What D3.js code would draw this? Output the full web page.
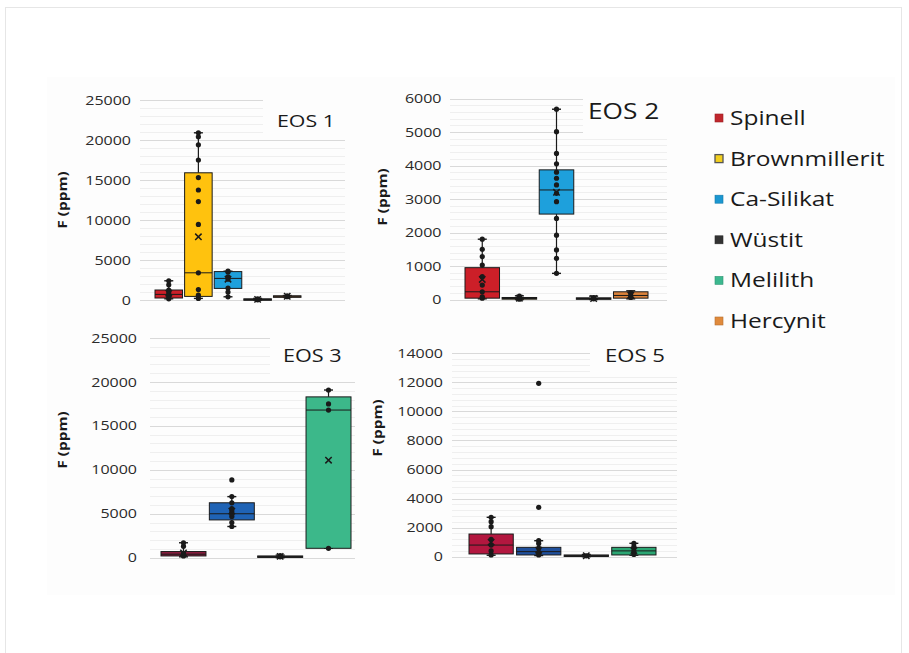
<!DOCTYPE html>
<html>
<head>
<meta charset="utf-8">
<script src="https://cdn.jsdelivr.net/npm/d3@7"></script>
<style>
  body { margin: 0; background: #fff; }
  text { font-family: "Open Sans", sans-serif; }
</style>
</head>
<body>
<svg id="chart"></svg>
<script>
// series (legend order)
var series = ["Spinell", "Brownmillerit", "Ca-Silikat", "Wüstit", "Melilith", "Hercynit"];

// y tick labels per panel
var eos1Ticks = [0, 5000, 10000, 15000, 20000, 25000];
var eos2Ticks = [0, 1000, 2000, 3000, 4000, 5000, 6000];
var eos3Ticks = [0, 5000, 10000, 15000, 20000, 25000];
var eos5Ticks = [0, 2000, 4000, 6000, 8000, 10000, 12000, 14000];

// box stats (ppm)
var eos1Boxes = [
  { s: "Spinell",       min: 150, q1: 250,  med: 700,  q3: 1250,  max: 2400,  mean: 850,  pts: [150, 400, 700, 1000, 1250, 1900, 2400], out: [] },
  { s: "Brownmillerit", min: 200, q1: 450,  med: 3400, q3: 15900, max: 20900, mean: 7900, pts: [200, 600, 1300, 3400, 9450, 12300, 13750, 15300, 17500, 19400, 20400, 20900], out: [] },
  { s: "Ca-Silikat",    min: 400, q1: 1450, med: 2700, q3: 3550,  max: 3600,  mean: 2600, pts: [400, 1000, 1500, 2600, 2900, 3500, 3600], out: [] },
  { s: "Wüstit",        min: 0,   q1: 20,   med: 60,   q3: 150,   max: 200,   mean: 80,   pts: [20, 60, 150], out: [] },
  { s: "Hercynit",      min: 380, q1: 420,  med: 470,  q3: 520,   max: 560,   mean: 470,  pts: [420, 520], out: [] }
];
var eos2Boxes = [
  { s: "Spinell",       min: 20,  q1: 40,   med: 230,  q3: 950,  max: 1800, mean: 600,  pts: [40, 80, 230, 430, 680, 1030, 1280, 1500, 1800], out: [] },
  { s: "Brownmillerit", min: 0,   q1: 10,   med: 30,   q3: 60,   max: 110,  mean: 40,   pts: [10, 50, 100], out: [] },
  { s: "Ca-Silikat",    min: 780, q1: 2550, med: 3270, q3: 3870, max: 5680, mean: 3200, pts: [780, 1230, 1480, 1920, 2420, 2920, 3170, 3420, 3620, 3800, 4050, 4360, 5010, 5680], out: [] },
  { s: "Wüstit",        min: 0,   q1: 10,   med: 30,   q3: 50,   max: 100,  mean: 30,   pts: [20, 60], out: [] },
  { s: "Hercynit",      min: 20,  q1: 40,   med: 120,  q3: 230,  max: 260,  mean: 130,  pts: [60, 120, 200], out: [] }
];
var eos3Boxes = [
  { s: "Spinell",    min: 100,  q1: 200,  med: 400,   q3: 700,   max: 1700,  mean: 550,   pts: [200, 500, 1300, 1700], out: [] },
  { s: "Ca-Silikat", min: 3550, q1: 4300, med: 5000,  q3: 6250,  max: 6950,  mean: 5300,  pts: [3550, 4000, 4700, 5000, 5300, 5600, 6250, 6950], out: [8850] },
  { s: "Wüstit",     min: 0,    q1: 50,   med: 120,   q3: 200,   max: 300,   mean: 150,   pts: [100, 250], out: [] },
  { s: "Melilith",   min: 1070, q1: 1070, med: 16800, q3: 18300, max: 19080, mean: 11100, pts: [1070, 16800, 17500, 19080], out: [] }
];
var eos5Boxes = [
  { s: "Spinell",    min: 100, q1: 190, med: 800, q3: 1560, max: 2710, mean: 1000, pts: [120, 400, 800, 1200, 2070, 2410, 2710], out: [] },
  { s: "Ca-Silikat", min: 80,  q1: 120, med: 350, q3: 645,  max: 1100, mean: 450,  pts: [120, 300, 600, 900, 1100], out: [3400, 11930] },
  { s: "Wüstit",     min: 0,   q1: 20,  med: 60,  q3: 120,  max: 150,  mean: 70,   pts: [60], out: [] },
  { s: "Melilith",   min: 100, q1: 120, med: 400, q3: 645,  max: 920,  mean: 420,  pts: [150, 400, 700, 920], out: [] }
];

// styles
var legendColors = ["#c0272d", "#f2cf1f", "#1b97d1", "#333333", "#3cb88f", "#e08a3c"];
var fillEos12 = { "Spinell": "#cc1f28", "Brownmillerit": "#ffc20e", "Ca-Silikat": "#1ea0dc", "Wüstit": "#404040", "Hercynit": "#d9823b" };
var fillEos3 = { "Spinell": "#8c1d3f", "Ca-Silikat": "#1f63b5", "Wüstit": "#404040", "Melilith": "#3cb88a" };
var fillEos5 = { "Spinell": "#b3173f", "Ca-Silikat": "#1f4f9b", "Wüstit": "#404040", "Melilith": "#2ba673" };
var areaFill = "#fdfdfd";

var K = 1.25; // horizontal text stretch of the original

var panels = [
  { name: "EOS 1", ticks: eos1Ticks, boxes: eos1Boxes, fill: fillEos12, minor: 1000,
    gx: [140, 345], gy: [300, 100], bx: [155, 301], pad: 9,
    title: [277, 127, 17.1], cover: [263, 94, 84, 42], yTitle: [67, 200] },
  { name: "EOS 2", ticks: eos2Ticks, boxes: eos2Boxes, fill: fillEos12, minor: 200,
    gx: [450, 667], gy: [299.5, 98.5], bx: [465, 648], pad: 8.5,
    title: [588, 119, 21], cover: [583, 92, 85, 44], yTitle: [387, 197] },
  { name: "EOS 3", ticks: eos3Ticks, boxes: eos3Boxes, fill: fillEos3, minor: 1000,
    gx: [150, 355], gy: [557.7, 338], bx: [161, 351], pad: 13,
    title: [283, 362, 17.3], cover: [270, 332, 86, 45], yTitle: [67, 440] },
  { name: "EOS 5", ticks: eos5Ticks, boxes: eos5Boxes, fill: fillEos5, minor: 400,
    gx: [452, 677], gy: [556.7, 353.3], bx: [469, 656], pad: 9,
    title: [605, 362, 17.7], cover: [590, 346, 88, 31], yTitle: [382, 428] }
];

var W = 909, H = 653;
var svg = d3.select("#chart").attr("width", W).attr("height", H);

// outer frame and chart area
svg.append("rect").attr("x", 5.5).attr("y", 7.5).attr("width", 896).attr("height", 700)
  .attr("fill", "#fff").attr("stroke", "#e6e6e6");
svg.append("rect").attr("x", 47).attr("y", 77).attr("width", 848).attr("height", 518)
  .attr("fill", areaFill);

panels.forEach(function (p) {
  var g = svg.append("g");
  var y = d3.scaleLinear().domain([0, p.ticks[p.ticks.length - 1]]).range(p.gy);
  var x = d3.scaleBand().domain(p.boxes.map(function (d) { return d.s; }))
    .range(p.bx).paddingInner(0.07).paddingOuter(0);

  // minor grid
  g.selectAll(".minor").data(d3.range(0, y.domain()[1], p.minor))
    .enter().append("line")
    .attr("x1", p.gx[0]).attr("x2", p.gx[1])
    .attr("y1", function (d) { return Math.round(y(d)) + 0.5; })
    .attr("y2", function (d) { return Math.round(y(d)) + 0.5; })
    .attr("stroke", "#efefef");

  // major grid
  g.selectAll(".major").data(p.ticks)
    .enter().append("line")
    .attr("x1", p.gx[0]).attr("x2", p.gx[1])
    .attr("y1", function (d) { return Math.round(y(d)) + 0.5; })
    .attr("y2", function (d) { return Math.round(y(d)) + 0.5; })
    .attr("stroke", "#d9d9d9");

  // box behind the title hides the grid there
  g.append("rect").attr("x", p.cover[0]).attr("y", p.cover[1])
    .attr("width", p.cover[2]).attr("height", p.cover[3]).attr("fill", areaFill);

  // y axis labels
  var ax = g.append("g").attr("transform", "translate(" + p.gx[0] + ",0)")
    .call(d3.axisLeft(y).tickValues(p.ticks).tickSize(0).tickFormat(d3.format("d")));
  ax.select(".domain").remove();
  ax.selectAll("text")
    .attr("x", 0)
    .attr("transform", "translate(" + (-p.pad) + ",0) scale(" + K + ",1)")
    .attr("font-family", "'Open Sans', sans-serif")
    .attr("font-size", 12.8)
    .attr("fill", "#2a2a2a");

  // y axis title
  g.append("text")
    .attr("transform", "translate(" + p.yTitle[0] + "," + p.yTitle[1] + ") rotate(-90) scale(" + K + ",1)")
    .attr("text-anchor", "middle")
    .attr("font-size", 12.3).attr("font-weight", "bold").attr("fill", "#1a1a1a")
    .text("F (ppm)");

  // panel title
  g.append("text")
    .attr("transform", "translate(" + p.title[0] + "," + p.title[1] + ") scale(" + K + ",1)")
    .attr("font-size", p.title[2]).attr("fill", "#1a1a1a")
    .text(p.name);

  // boxes
  var cap = 9;
  var bg = g.selectAll(".box").data(p.boxes).enter().append("g");
  bg.each(function (d) {
    var b = d3.select(this);
    var x0 = x(d.s), w = x.bandwidth(), cx = x0 + w / 2;
    // whiskers
    [[d.min, d.q1], [d.q3, d.max]].forEach(function (r) {
      b.append("line").attr("x1", cx).attr("x2", cx)
        .attr("y1", y(r[0])).attr("y2", y(r[1]))
        .attr("stroke", "#1a1a1a").attr("stroke-width", 1.2);
    });
    [d.min, d.max].forEach(function (v) {
      b.append("line").attr("x1", cx - cap / 2).attr("x2", cx + cap / 2)
        .attr("y1", y(v)).attr("y2", y(v))
        .attr("stroke", "#1a1a1a").attr("stroke-width", 1.4);
    });
    // box
    var top = y(d.q3), h = Math.max(1.5, y(d.q1) - y(d.q3));
    b.append("rect").attr("x", x0).attr("y", top).attr("width", w).attr("height", h)
      .attr("fill", p.fill[d.s]).attr("stroke", "#1a1a1a").attr("stroke-width", 1);
    // median
    b.append("line").attr("x1", x0).attr("x2", x0 + w)
      .attr("y1", y(d.med)).attr("y2", y(d.med))
      .attr("stroke", "#1a1a1a").attr("stroke-width", 1);
    // points
    b.selectAll(".pt").data(d.pts.concat(d.out)).enter().append("circle")
      .attr("cx", cx).attr("cy", function (v) { return y(v); })
      .attr("r", 2.6).attr("fill", "#1a1a1a");
    // mean marker
    var my = y(d.mean), m = 3.2;
    b.append("path")
      .attr("d", "M" + (cx - m) + "," + (my - m) + "L" + (cx + m) + "," + (my + m) +
                 "M" + (cx - m) + "," + (my + m) + "L" + (cx + m) + "," + (my - m))
      .attr("stroke", "#1a1a1a").attr("stroke-width", 1.5);
  });
});

// legend
var legY = d3.scalePoint().domain(series).range([118, 321]);
var leg = svg.append("g").selectAll("g").data(series).enter().append("g")
  .attr("transform", function (d) { return "translate(715," + legY(d) + ")"; });
leg.append("rect").attr("x", 0).attr("y", -4).attr("width", 8).attr("height", 8)
  .attr("fill", function (d, i) { return legendColors[i]; })
  .attr("stroke", function (d, i) { return i === 1 ? "#555" : d3.color(legendColors[i]).darker(0.6); })
  .attr("stroke-width", function (d, i) { return i === 1 ? 1.3 : 0.6; });
leg.append("text")
  .attr("transform", "translate(15,7) scale(" + K + ",1)")
  .attr("font-size", 19.6).attr("fill", "#1a1a1a")
  .text(function (d) { return d; });
</script>
</body>
</html>
